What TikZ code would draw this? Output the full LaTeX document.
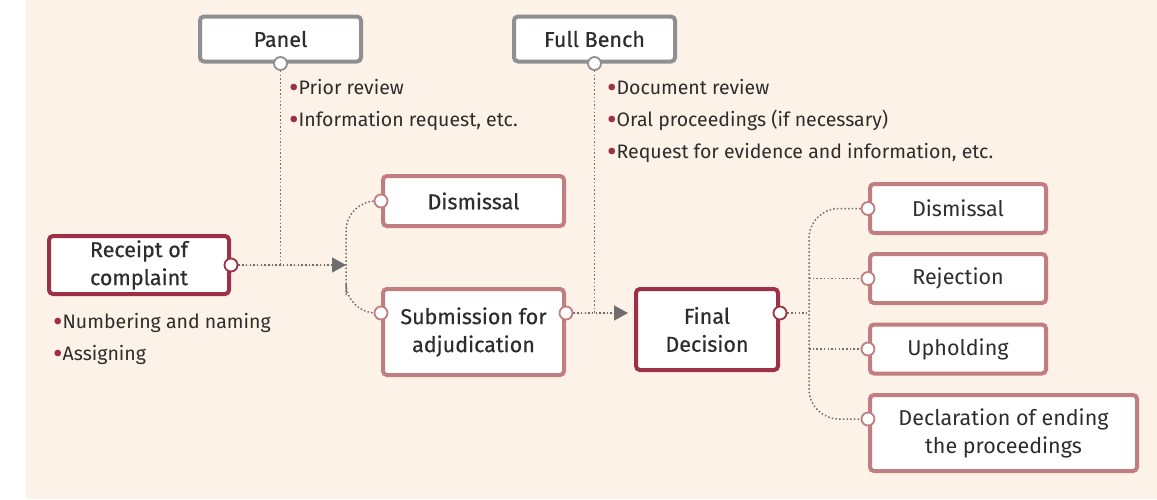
\documentclass[tikz,border=0pt]{standalone}
\usepackage{fontspec}
\setmainfont{Fira Sans}
\newfontfamily\boxfont[FakeBold=0.5]{Fira Sans}
\usepackage{tikz}
\usetikzlibrary{arrows.meta}
\usepackage{xcolor}
\definecolor{bgcream}{HTML}{FDF2E7}
\definecolor{darkred}{HTML}{9B3046}
\definecolor{pinkred}{HTML}{C07E80}
\definecolor{boxgray}{HTML}{8E8F93}
\definecolor{txt}{HTML}{2D2D2D}
\definecolor{dotgray}{HTML}{6E6E6E}
\tikzset{
  box/.style={draw, fill=white, rounded corners=4pt, line width=4pt, align=center, inner sep=0pt, text=txt, font=\boxfont\fontsize{21.5}{28}\selectfont},
  graybox/.style={box, draw=boxgray},
  redbox/.style={box, draw=darkred},
  pinkbox/.style={box, draw=pinkred},
  outbox/.style={pinkbox, font=\fontsize{21.5}{28}\selectfont},
  port/.style={circle, draw, fill=white, line width=1.8pt, inner sep=0pt, minimum size=13pt},
  dotline/.style={dotgray, line width=1.5pt, dash pattern=on 1.5pt off 2.2pt},
  tip/.style={-{Triangle[length=14pt,width=15pt]}},
  notes/.style={anchor=north west, align=left, inner sep=0pt, text=txt, font=\fontsize{19.5}{32}\selectfont}
}
\newcommand{\bul}{{\color{darkred}\raisebox{-0.3ex}{\scalebox{1.5}{•}}}}
\begin{document}
\begin{tikzpicture}[x=1pt,y=-1pt]
  \useasboundingbox (0,0) rectangle (1157,499);
  \fill[bgcream] (26,0) rectangle (1157,499);

  \node[graybox, minimum width=161pt, minimum height=45pt] (panel) at (280.5,39) {Panel};
  \node[graybox, minimum width=161pt, minimum height=45pt] (bench) at (594.5,39) {Full Bench};
  \node[redbox, minimum width=180pt, minimum height=58pt] (receipt) at (139,265) {Receipt of\\complaint};
  \node[pinkbox, minimum width=181pt, minimum height=50pt] (dism1) at (473.5,201) {Dismissal};
  \node[pinkbox, minimum width=181pt, minimum height=86pt] (submit) at (473.5,332) {Submission for\\adjudication};
  \node[redbox, minimum width=142pt, minimum height=81pt] (final) at (707,329.5) {Final\\Decision};
  \node[outbox, minimum width=176pt, minimum height=49pt] (dism2) at (958,208.5) {Dismissal};
  \node[outbox, minimum width=176pt, minimum height=49pt] (reject) at (958,278.5) {Rejection};
  \node[outbox, minimum width=176pt, minimum height=49pt] (uphold) at (958,349) {Upholding};
  \node[outbox, minimum width=267pt, minimum height=76pt] (declare) at (1003.5,433) {Declaration of ending\\the proceedings};

  \coordinate (subin) at ([yshift=19pt]submit.west);
  \coordinate (subout) at ([yshift=19pt]submit.east);
  \coordinate (finout) at ([yshift=16.5pt]final.east);
  \coordinate (declin) at ([yshift=14pt]declare.west);
  \coordinate (split1) at (346,265);
  \coordinate (trunk) at (809,313);

  \draw[dotline] (panel.south) -- (panel.south |- receipt.east);
  \draw[dotline, tip, fill=dotgray] (receipt.east) -- (split1);
  \draw[dotline, rounded corners=30pt] (dism1.west) -| (split1) |- (subin);
  \draw[dotline] (bench.south) -- (bench.south |- subout);
  \draw[dotline, tip, fill=dotgray, shorten >=6pt] (subout) -- (final.west |- subout);
  \draw[dotline] (finout) -- (trunk);
  \draw[dotline, rounded corners=30pt] (dism2.west) -| (trunk) |- (declin);
  \draw[dotline] (trunk |- reject.west) -- (reject.west);
  \draw[dotline] (trunk |- uphold.west) -- (uphold.west);

  \node[port, draw=boxgray] at (panel.south) {};
  \node[port, draw=boxgray] at (bench.south) {};
  \node[port, draw=darkred] at (receipt.east) {};
  \node[port, draw=pinkred] at (dism1.west) {};
  \node[port, draw=pinkred] at (subin) {};
  \node[port, draw=pinkred] at (subout) {};
  \node[port, draw=darkred] at (finout) {};
  \node[port, draw=pinkred] at (dism2.west) {};
  \node[port, draw=pinkred] at (reject.west) {};
  \node[port, draw=pinkred] at (uphold.west) {};
  \node[port, draw=pinkred] at (declin) {};

  \node[notes] (panelnotes) at (289,79) {\bul Prior review\\\bul Information request, etc.};
  \node[notes] (benchnotes) at (607,79) {\bul Document review\\\bul Oral proceedings (if necessary)\\\bul Request for evidence and information, etc.};
  \node[notes] (receiptnotes) at (53,313) {\bul Numbering and naming\\\bul Assigning};
\end{tikzpicture}
\end{document}
